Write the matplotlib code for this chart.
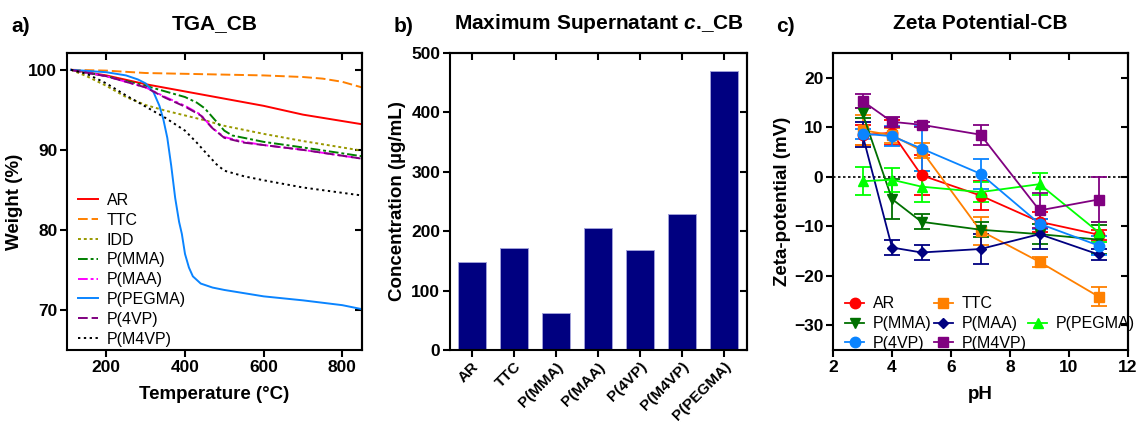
import matplotlib
matplotlib.use("Agg")
import matplotlib.pyplot as plt
from matplotlib.lines import Line2D
import numpy as np

plt.rcParams['font.family'] = ['Liberation Sans', 'DejaVu Sans']
plt.rcParams['mathtext.fontset'] = 'custom'
plt.rcParams['mathtext.it'] = 'Liberation Sans:italic:bold'

# ---- a) TGA data (read off the curves) ----
temp_ar = [110, 200, 300, 400, 500, 600, 700, 850]
w_ar = [100, 99.3, 98.2, 97.3, 96.4, 95.5, 94.4, 93.2]

temp_ttc = [110, 200, 300, 400, 500, 600, 700, 750, 800, 850]
w_ttc = [100, 99.9, 99.6, 99.5, 99.4, 99.3, 99.1, 98.9, 98.5, 97.8]

temp_idd = [110, 150, 200, 250, 300, 350, 400, 450, 500, 600, 700, 850]
w_idd = [100, 99.2, 98.0, 96.6, 95.6, 94.9, 94.3, 93.7, 93.0, 92.0, 91.1, 89.9]

temp_mma = [110, 200, 300, 350, 400, 430, 450, 475, 500, 520, 600, 700, 850]
w_mma = [100, 99.2, 98.0, 97.3, 96.6, 95.9, 95.2, 93.8, 92.4, 91.8, 91.0, 90.3, 89.2]

temp_maa = [110, 200, 300, 350, 400, 440, 470, 500, 550, 600, 700, 850]
w_maa = [100, 99.2, 97.8, 96.6, 95.5, 94.4, 92.7, 91.6, 91.0, 90.6, 90.0, 88.9]

temp_pegma = [110, 200, 250, 280, 300, 320, 335, 345, 355, 365, 375, 385, 392,
              400, 410, 420, 440, 470, 500, 600, 700, 800, 850]
w_pegma = [100, 99.7, 99.3, 98.8, 98.3, 97.2, 95.5, 93.8, 91.5, 88.0, 84.0, 81.0, 79.5,
           77.0, 75.3, 74.2, 73.3, 72.8, 72.5, 71.7, 71.2, 70.6, 70.1]

temp_4vp = [110, 200, 300, 350, 400, 440, 470, 500, 550, 600, 700, 850]
w_4vp = [100, 99.2, 97.8, 96.5, 95.4, 94.3, 92.7, 91.5, 90.9, 90.6, 90.0, 88.9]

temp_m4vp = [110, 150, 200, 250, 300, 350, 400, 430, 450, 480, 500, 550, 600, 700, 850]
w_m4vp = [100, 99.5, 98.3, 96.8, 95.4, 94.0, 92.4, 90.9, 89.8, 88.2, 87.4, 86.7, 86.2, 85.3, 84.3]

# ---- b) supernatant concentration ----
bar_labels = ['AR', 'TTC', 'P(MMA)', 'P(MAA)', 'P(4VP)', 'P(M4VP)', 'P(PEGMA)']
bar_values = [148, 171, 62, 205, 169, 229, 470]

# ---- c) zeta potential ----
ph = [3, 4, 5, 7, 9, 11]
z_ar = [8.4, 8.9, 0.3, -3.8, -9.1, -11.7]
e_ar = [2.0, 2.5, 4.0, 3.0, 2.0, 1.0]
z_ttc = [9.4, 8.4, 5.3, -10.9, -17.2, -24.2]
e_ttc = [3.0, 1.5, 1.5, 2.8, 1.0, 2.0]
z_mma = [12.8, -4.5, -9.1, -10.7, -11.6, -12.7]
e_mma = [1.0, 4.0, 1.5, 1.5, 2.0, 3.0]
z_maa = [8.5, -14.3, -15.3, -14.6, -11.6, -15.7]
e_maa = [2.5, 1.5, 1.5, 3.0, 3.0, 1.2]
z_pegma = [-0.9, -0.6, -2.0, -3.1, -1.5, -11.2]
e_pegma = [2.8, 2.4, 3.2, 2.0, 2.2, 2.0]
z_4vp = [8.7, 8.2, 5.7, 0.6, -9.5, -13.9]
e_4vp = [1.0, 2.0, 4.5, 3.0, 1.0, 2.0]
z_m4vp = [15.3, 11.1, 10.5, 8.5, -6.8, -4.6]
e_m4vp = [1.5, 1.0, 0.5, 2.0, 3.5, 4.6]

TICK_FS = 12.5
LABEL_FS = 13.5
TITLE_FS = 15
LEG_FS = 11.5

fig = plt.figure(figsize=(11.4, 4.23), dpi=100)
bottom, height = 0.1726, 0.7021
ax1 = fig.add_axes([0.0588, bottom, 0.2587, height])
ax2 = fig.add_axes([0.3947, bottom, 0.2606, height])
ax3 = fig.add_axes([0.7307, bottom, 0.2588, height])


def style(ax):
    for s in ax.spines.values():
        s.set_linewidth(1.5)
    ax.tick_params(axis='both', which='major', labelsize=TICK_FS, width=1.5, length=5,
                   direction='out', pad=2)
    for lab in ax.get_xticklabels() + ax.get_yticklabels():
        lab.set_fontweight('bold')
    # inward ticks on the top and right spines
    top = ax.secondary_xaxis('top')
    top.set_xticks(ax.get_xticks())
    top.set_xticklabels([])
    top.tick_params(direction='in', width=1.5, length=5)
    right = ax.secondary_yaxis('right')
    right.set_yticks(ax.get_yticks())
    right.set_yticklabels([])
    right.tick_params(direction='in', width=1.5, length=5)
    for sec in (top, right):
        for s in sec.spines.values():
            s.set_linewidth(1.5)


# ---- panel a ----
ax1.plot(temp_ar, w_ar, color='#FF0000', lw=1.4, label='AR')
ax1.plot(temp_ttc, w_ttc, color='#FF8000', lw=1.4, ls=(0, (5, 2)), label='TTC')
ax1.plot(temp_idd, w_idd, color='#999900', lw=1.4, ls=(0, (1.5, 1.5)), label='IDD')
ax1.plot(temp_mma, w_mma, color='#008000', lw=1.4, ls=(0, (5, 1.5, 1.5, 1.5)), label='P(MMA)')
ax1.plot(temp_maa, w_maa, color='#FF00FF', lw=1.4, ls=(0, (5, 1.5, 1.5, 1.5, 1.5, 1.5)), label='P(MAA)')
ax1.plot(temp_pegma, w_pegma, color='#0A84FF', lw=1.4, label='P(PEGMA)')
ax1.plot(temp_4vp, w_4vp, color='#800080', lw=1.4, ls=(0, (5, 2)), label='P(4VP)')
ax1.plot(temp_m4vp, w_m4vp, color='black', lw=1.4, ls=(0, (1.2, 1.8)), label='P(M4VP)')
ax1.set_xlim(100, 850)
ax1.set_ylim(65, 102.1)
ax1.set_xticks([200, 400, 600, 800])
ax1.set_yticks([70, 80, 90, 100])
style(ax1)
ax1.set_xlabel('Temperature (°C)', fontsize=LABEL_FS, fontweight='bold', labelpad=8)
ax1.set_ylabel('Weight (%)', fontsize=LABEL_FS, fontweight='bold', labelpad=4)
ax1.set_title('TGA_CB', fontsize=TITLE_FS, fontweight='bold', pad=17)
ax1.legend(loc='lower left', frameon=False, fontsize=LEG_FS, handlelength=1.25,
           labelspacing=0.3, handletextpad=0.55, borderaxespad=0.0,
           bbox_to_anchor=(0.015, -0.01))

# ---- panel b ----
xpos = np.arange(len(bar_values))
ax2.bar(xpos, bar_values, width=0.67, color='#000080', edgecolor='#a0a0d8', linewidth=0.7)
ax2.set_xlim(-0.52, 6.55)
ax2.set_ylim(0, 500)
ax2.set_xticks(xpos)
ax2.set_xticklabels(bar_labels)
ax2.set_yticks([0, 100, 200, 300, 400, 500])
style(ax2)
plt.setp(ax2.get_xticklabels(), rotation=45, ha='right', rotation_mode='anchor', fontsize=11)
ax2.set_ylabel('Concentration (µg/mL)', fontsize=LABEL_FS, fontweight='bold', labelpad=4)
ax2.set_title('Maximum Supernatant $c$._CB', fontsize=TITLE_FS, fontweight='bold', pad=17)

# ---- panel c ----
series = [
    (z_ar, e_ar, '#FF0000', 'o', 'AR'),
    (z_ttc, e_ttc, '#FF8000', 's', 'TTC'),
    (z_mma, e_mma, '#007000', 'v', 'P(MMA)'),
    (z_maa, e_maa, '#000080', 'D', 'P(MAA)'),
    (z_pegma, e_pegma, '#00FF00', '^', 'P(PEGMA)'),
    (z_4vp, e_4vp, '#0A84FF', 'o', 'P(4VP)'),
    (z_m4vp, e_m4vp, '#800080', 's', 'P(M4VP)'),
]
handles = {}
ax3.axhline(0, color='black', lw=1.2, ls=(0, (1.5, 1.5)), zorder=1)
for z, e, c, m, lab in series:
    ms = 5 if m == 'D' else 7.5
    h = ax3.errorbar(ph, z, yerr=e, color=c, marker=m, ms=ms, lw=1.3,
                     capsize=5.5, capthick=1.3, elinewidth=1.3, label=lab)
    handles[lab] = h[0]
ax3.set_xlim(2, 12)
ax3.set_ylim(-35, 25)
ax3.set_xticks([2, 4, 6, 8, 10, 12])
ax3.set_yticks([-30, -20, -10, 0, 10, 20])
style(ax3)
ax3.set_xlabel('pH', fontsize=LABEL_FS, fontweight='bold', labelpad=8)
ax3.set_ylabel('Zeta-potential (mV)', fontsize=LABEL_FS, fontweight='bold', labelpad=2)
ax3.set_title('Zeta Potential-CB', fontsize=TITLE_FS, fontweight='bold', pad=17)
blank = Line2D([], [], color='none')
order = ['AR', 'P(MMA)', 'P(4VP)', 'TTC', 'P(MAA)', 'P(M4VP)', None, 'P(PEGMA)', None]
leg_h = [handles[k] if k else blank for k in order]
leg_l = [k if k else '' for k in order]
ax3.legend(leg_h, leg_l, loc='lower left', ncol=3, frameon=False, fontsize=LEG_FS,
           handlelength=1.2, columnspacing=0.1, labelspacing=0.3, handletextpad=0.55,
           borderaxespad=0.0, bbox_to_anchor=(0.02, -0.025))

fig.text(0.010, 0.925, 'a)', fontsize=TITLE_FS, fontweight='bold')
fig.text(0.345, 0.925, 'b)', fontsize=TITLE_FS, fontweight='bold')
fig.text(0.681, 0.925, 'c)', fontsize=TITLE_FS, fontweight='bold')

fig.savefig('out.png', dpi=100)
